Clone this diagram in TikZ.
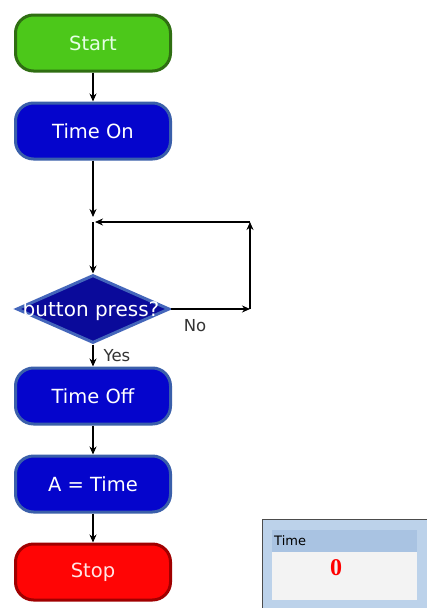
\documentclass[tikz,border=0pt]{standalone}
\usepackage{fontspec}
\setmainfont{DejaVu Sans}
\newfontfamily\numfont{Liberation Serif}
\usetikzlibrary{shapes.geometric,arrows.meta}
\definecolor{gfill}{HTML}{4CC81A}
\definecolor{gbord}{HTML}{2F6E12}
\definecolor{bfill}{HTML}{0505CC}
\definecolor{bbord}{HTML}{3A5FAA}
\definecolor{rfill}{HTML}{FF0505}
\definecolor{rbord}{HTML}{A00000}
\definecolor{dfill}{HTML}{0A0A9A}
\definecolor{dbord}{HTML}{4466BB}
\definecolor{panel}{HTML}{BCD2EA}
\definecolor{titlebar}{HTML}{A9C3E2}
\definecolor{field}{HTML}{F3F3F3}
\tikzset{
  box/.style={rectangle, rounded corners=18pt, minimum width=155pt, minimum height=56pt,
    line width=3pt, font=\fontsize{19.5}{22}\selectfont, inner sep=0pt},
  startbox/.style={box, fill=gfill, draw=gbord, text=green!10!white},
  procbox/.style={box, fill=bfill, draw=bbord, text=white},
  stopbox/.style={box, fill=rfill, draw=rbord, text=red!10!white},
  decision/.style={diamond, fill=dfill, draw=dbord, line width=3pt, inner sep=0pt,
    minimum width=153pt, minimum height=68pt},
  dectext/.style={text=white, font=\fontsize{20}{22}\selectfont, inner sep=0pt},
  lbl/.style={font=\fontsize{16.5}{18}\selectfont, text=black!80, inner sep=0pt},
  arr/.style={-{Stealth[length=8pt,width=7pt]}, line width=1.1pt, black},
  ln/.style={line width=1.1pt, black}
}
\begin{document}
\begin{tikzpicture}[x=1pt,y=-1pt]
\useasboundingbox (0,0) rectangle (426,608);
\fill[white] (0,0) rectangle (426,608);
\node[startbox] (start) at (93,43) {Start};
\node[procbox] (timeon) at (93,131) {Time On};
\coordinate (j1) at (93,222);
\node[decision] (dec) at (93,309) {};
\node[dectext] (dectxt) at (91,311) {button press?};
\node[procbox] (timeoff) at (93,396) {Time Off};
\node[procbox] (atime) at (93,484) {A = Time};
\node[stopbox] (stop) at (93,572) {Stop};
\coordinate (noR) at (250,309);
\coordinate (noT) at (250,222);
\node[lbl] (no) at (195,326) {No};
\node[lbl] (yes) at (117,356) {Yes};
\draw[arr] (start.south) -- (timeon.north);
\draw[arr, shorten >=5pt] (timeon.south) -- (j1);
\draw[arr] (j1) -- (dec.north);
\draw[arr] (dec.east) -- (noR);
\draw[arr] (noR) -- (noT);
\draw[arr, shorten >=2pt] (noT) -- (j1);
\draw[arr] (dec.south) -- (timeoff.north);
\draw[arr] (timeoff.south) -- (atime.north);
\draw[arr] (atime.south) -- (stop.north);
% widget
\node[draw=black!70, fill=panel, line width=1pt, minimum width=170pt, minimum height=92pt, anchor=north west, inner sep=0pt] (panelbox) at (262,519) {};
\node[fill=titlebar, minimum width=145pt, minimum height=22pt, anchor=north west, inner sep=0pt] (tbar) at (272,530) {};
\node[fill=field, minimum width=145pt, minimum height=48pt, anchor=north west, inner sep=0pt] (fld) at (272,552) {};
\node[anchor=west, font=\fontsize{13}{15}\selectfont, inner sep=0pt] (ttl) at (274,541) {Time};
\node[text=red, font=\numfont\bfseries\fontsize{24}{26}\selectfont, inner sep=0pt] (val) at (336,568) {0};
\end{tikzpicture}
\end{document}
